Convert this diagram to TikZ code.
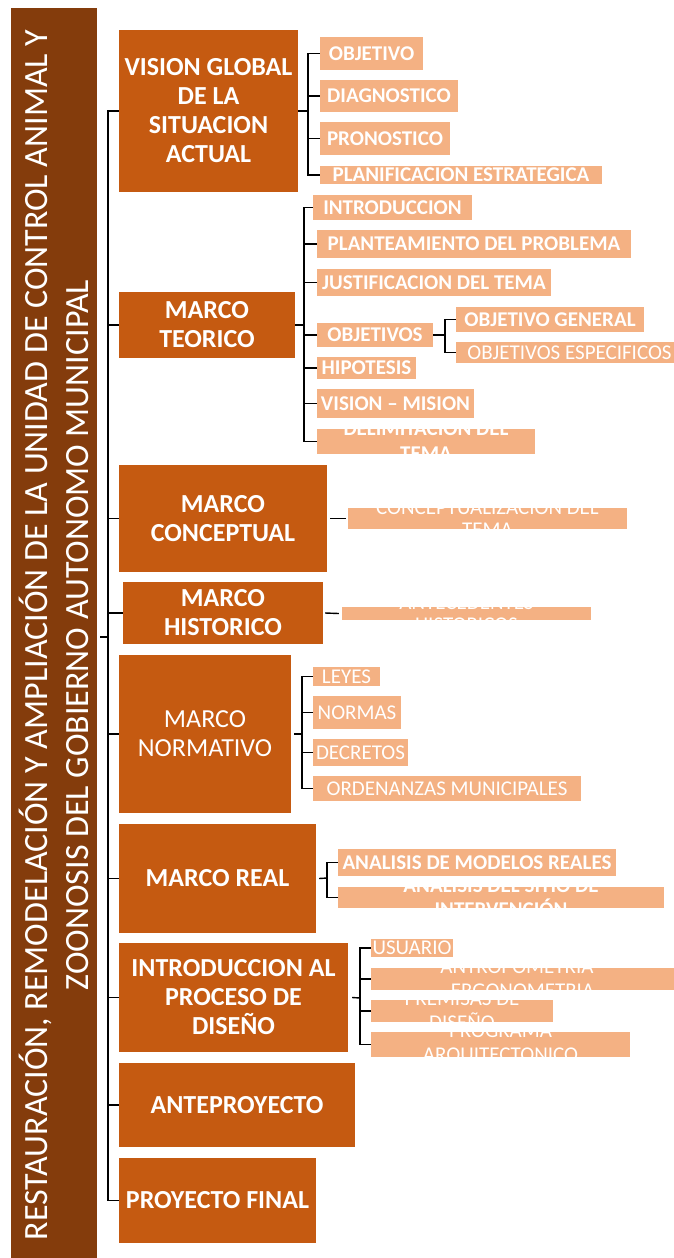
\documentclass[tikz,border=0pt]{standalone}
\usepackage{fontspec}
\setmainfont{Carlito}
\definecolor{barc}{HTML}{843C0C}
\definecolor{mainc}{HTML}{C55A11}
\definecolor{subc}{HTML}{F4B183}
\tikzset{
  mainbox/.style={fill=mainc, text=white, align=center, inner sep=0pt, font=\fontsize{26}{29}\selectfont\bfseries},
  mainboxr/.style={mainbox, font=\fontsize{26}{29}\selectfont},
  subbox/.style={fill=subc, text=white, align=center, inner sep=0pt, font=\fontsize{21}{24}\selectfont\bfseries},
  subboxr/.style={subbox, font=\fontsize{21}{24}\selectfont},
  conn/.style={line width=1.4pt, black},
  cliptext/.style={text=white, align=center, inner sep=0pt},
}
\newcommand\mkbox[7]{\node[#6, minimum width={(#4)-(#2)}, minimum height={(#5)-(#3)}] (#1) at ({((#2)+(#4))/2},{((#3)+(#5))/2}) {#7};}
\begin{document}
\begin{tikzpicture}[x=1pt,y=-1pt]
\useasboundingbox (0,0) rectangle (674,1258);
% title bar
\node[fill=barc, minimum width=86, minimum height=1250, inner sep=0pt] (bar) at (54,633) {};
\node[rotate=90, text=white, align=center, inner sep=0pt, font=\fontsize{34}{41}\selectfont] (title) at (54,635)
  {RESTAURACIÓN, REMODELACIÓN Y AMPLIACIÓN DE LA UNIDAD DE CONTROL ANIMAL Y\\ZOONOSIS DEL GOBIERNO AUTONOMO MUNICIPAL};
% main boxes
\mkbox{vision}{119}{30}{298}{192}{mainbox}{VISION GLOBAL\\DE LA\\SITUACION\\ACTUAL}
\mkbox{teorico}{119}{292}{295}{358}{mainbox}{MARCO\\TEORICO}
\mkbox{concep}{119}{465}{327}{572}{mainbox}{MARCO\\CONCEPTUAL}
\mkbox{hist}{123}{582}{323}{644}{mainbox}{MARCO\\HISTORICO}
\mkbox{norm}{119}{655}{291}{813}{mainboxr}{MARCO\\NORMATIVO}
\mkbox{real}{119}{824}{316}{933}{mainbox}{MARCO REAL}
\mkbox{intro}{119}{943}{348}{1052}{mainbox}{INTRODUCCION AL\\PROCESO DE\\DISEÑO}
\mkbox{ante}{119}{1063}{355}{1147}{mainbox}{ANTEPROYECTO}
\mkbox{final}{119}{1158}{316}{1243}{mainbox}{PROYECTO FINAL}
% vision children
\mkbox{objetivo}{320}{37}{423}{70}{subbox}{OBJETIVO}
\mkbox{diag}{320}{80}{458}{112}{subbox}{DIAGNOSTICO}
\mkbox{pron}{320}{122}{450}{155}{subbox}{PRONOSTICO}
\mkbox{planif}{320}{166}{602}{184}{subbox}{PLANIFICACION ESTRATEGICA}
% teorico children
\mkbox{introd}{313}{195}{472}{220}{subbox}{INTRODUCCION}
\mkbox{plant}{317}{230}{631}{258}{subbox}{PLANTEAMIENTO DEL PROBLEMA}
\mkbox{just}{317}{269}{551}{296}{subbox}{JUSTIFICACION DEL TEMA}
\mkbox{objs}{317}{323}{433}{347}{subbox}{OBJETIVOS}
\mkbox{hip}{317}{357}{416}{379}{subbox}{HIPOTESIS}
\mkbox{vismis}{317}{389}{474}{418}{subbox}{VISION – MISION}
\mkbox{delim}{317}{429}{535}{454}{subbox}{}
\begin{scope}
  \clip (delim.south west) rectangle (delim.north east);
  \node[cliptext, font=\fontsize{21}{25}\selectfont\bfseries] (delimT) at (delim.center) {DELIMITACION DEL\\TEMA};
\end{scope}
\mkbox{objgen}{456}{307}{644}{332}{subbox}{OBJETIVO GENERAL}
\mkbox{objesp}{456}{342}{683}{363}{subboxr}{OBJETIVOS ESPECIFICOS}
% conceptual child
\mkbox{conc}{348}{508}{627}{529}{subboxr}{}
\begin{scope}
  \clip (conc.south west) rectangle (conc.north east);
  \node[cliptext, font=\fontsize{21}{22.5}\selectfont] (concT) at (conc.center) {CONCEPTUALIZACION DEL\\TEMA};
\end{scope}
% historico child
\mkbox{antec}{342}{607}{591}{620}{subboxr}{}
\begin{scope}
  \clip (antec.south west) rectangle (antec.north east);
  \node[cliptext, font=\fontsize{21}{22}\selectfont] (antecT) at (antec.center) {ANTECEDENTES\\HISTORICOS};
\end{scope}
% normativo children
\mkbox{leyes}{313}{667}{380}{686}{subboxr}{LEYES}
\mkbox{normas}{313}{696}{401}{729}{subboxr}{NORMAS}
\mkbox{decr}{313}{739}{408}{766}{subboxr}{DECRETOS}
\mkbox{orden}{313}{776}{581}{801}{subboxr}{ORDENANZAS MUNICIPALES}
% real children
\mkbox{anmod}{338}{849}{616}{876}{subbox}{ANALISIS DE MODELOS REALES}
\mkbox{ansit}{338}{887}{664}{908}{subbox}{}
\begin{scope}
  \clip (ansit.south west) rectangle (ansit.north east);
  \node[cliptext, font=\fontsize{21}{24}\selectfont\bfseries] (ansitT) at (ansit.center) {ANALISIS DEL SITIO DE\\INTERVENCIÓN};
\end{scope}
% intro children
\mkbox{usu}{371}{939}{453}{957}{subboxr}{USUARIO}
\mkbox{antro}{371}{968}{674}{990}{subboxr}{}
\begin{scope}
  \clip (antro.south west) rectangle (antro.north east);
  \node[cliptext, font=\fontsize{21}{24}\selectfont] (antroT) at (antro.center) {ANTROPOMETRIA -\\ERGONOMETRIA};
\end{scope}
\mkbox{prem}{371}{1000}{553}{1022}{subboxr}{}
\begin{scope}
  \clip (prem.south west) rectangle (prem.north east);
  \node[cliptext, font=\fontsize{21}{24}\selectfont] (premT) at (prem.center) {PREMISAS DE\\DISEÑO};
\end{scope}
\mkbox{prog}{371}{1032}{630}{1057}{subboxr}{}
\begin{scope}
  \clip (prog.south west) rectangle (prog.north east);
  \node[cliptext, font=\fontsize{21}{24}\selectfont] (progT) at (prog.center) {PROGRAMA\\ARQUITECTONICO};
\end{scope}
% trunk
\coordinate (trunk) at (108,637);
\coordinate (rootend) at (100,637);
\draw[conn] (rootend) -- (trunk);
\foreach \b in {vision,teorico,concep,hist,norm,real,intro,ante,final}
  \draw[conn] (trunk) |- (\b.west);
% vision bracket
\coordinate (vb) at (308,111);
\draw[conn] (vision.east) -- (vb);
\foreach \c in {objetivo,diag,pron,planif} \draw[conn] (vb) |- (\c.west);
% teorico bracket
\coordinate (tb) at (304,325);
\draw[conn] (teorico.east) -- (tb);
\foreach \c in {introd,plant,just,objs,hip,vismis,delim} \draw[conn] (tb) |- (\c.west);
% objetivos bracket
\coordinate (ob) at (445,335);
\draw[conn] (objs.east) -- (ob);
\foreach \c in {objgen,objesp} \draw[conn] (ob) |- (\c.west);
% conceptual and historico
\draw[conn] ([xshift=3pt]concep.east) -- ([xshift=-2pt]conc.west);
\draw[conn] ([xshift=2pt]hist.east) -- ([xshift=-3pt]antec.west);
% normativo bracket
\coordinate (nb) at (302,734);
\draw[conn] ([xshift=3pt]norm.east) -- (nb);
\foreach \c in {leyes,normas,decr,orden} \draw[conn] (nb) |- (\c.west);
% real bracket
\coordinate (rb) at (327,878);
\draw[conn] ([xshift=3pt]real.east) -- (rb);
\foreach \c in {anmod,ansit} \draw[conn] (rb) |- (\c.west);
% intro bracket
\coordinate (ib) at (360,998);
\draw[conn] ([xshift=4pt]intro.east) -- (ib);
\foreach \c in {usu,antro,prem,prog} \draw[conn] (ib) |- (\c.west);
\end{tikzpicture}
\end{document}
